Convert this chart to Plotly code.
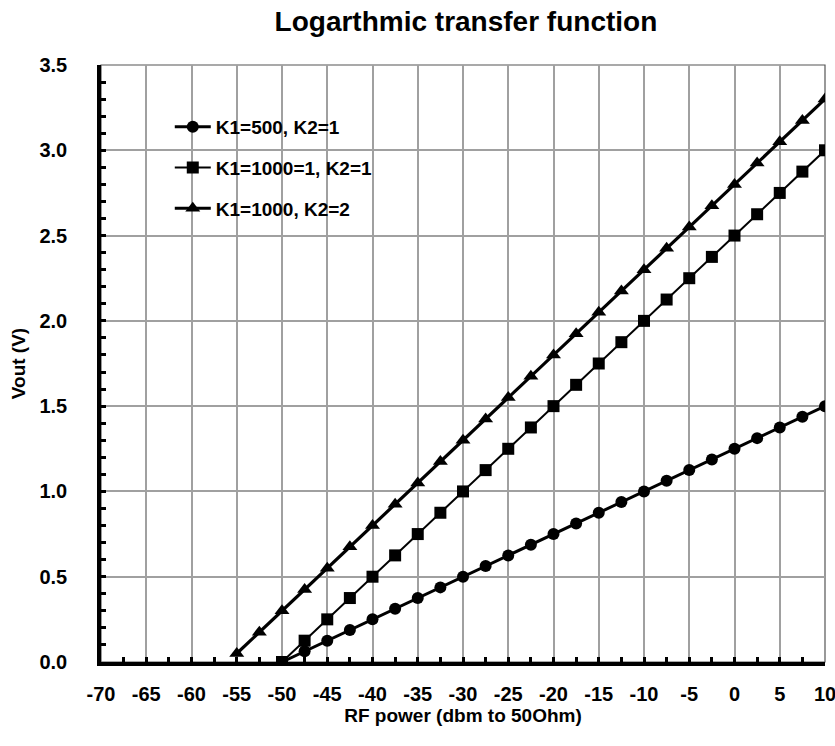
import plotly.graph_objects as go

# RF input power (dBm into 50 Ohm) and detector output voltage for three gain settings
power_k500 = [-50, -47.5, -45, -42.5, -40, -37.5, -35, -32.5, -30, -27.5, -25, -22.5, -20,
              -17.5, -15, -12.5, -10, -7.5, -5, -2.5, 0, 2.5, 5, 7.5, 10]
vout_k500 = [0.0, 0.0625, 0.125, 0.1875, 0.25, 0.3125, 0.375, 0.4375, 0.5, 0.5625, 0.625,
             0.6875, 0.75, 0.8125, 0.875, 0.9375, 1.0, 1.0625, 1.125, 1.1875, 1.25, 1.3125,
             1.375, 1.4375, 1.5]

power_k1000 = [-50, -47.5, -45, -42.5, -40, -37.5, -35, -32.5, -30, -27.5, -25, -22.5, -20,
               -17.5, -15, -12.5, -10, -7.5, -5, -2.5, 0, 2.5, 5, 7.5, 10]
vout_k1000 = [0.0, 0.125, 0.25, 0.375, 0.5, 0.625, 0.75, 0.875, 1.0, 1.125, 1.25, 1.375, 1.5,
              1.625, 1.75, 1.875, 2.0, 2.125, 2.25, 2.375, 2.5, 2.625, 2.75, 2.875, 3.0]

power_k1000_k2 = [-55, -52.5, -50, -47.5, -45, -42.5, -40, -37.5, -35, -32.5, -30, -27.5, -25,
                  -22.5, -20, -17.5, -15, -12.5, -10, -7.5, -5, -2.5, 0, 2.5, 5, 7.5, 10]
vout_k1000_k2 = [0.05, 0.175, 0.3, 0.425, 0.55, 0.675, 0.8, 0.925, 1.05, 1.175, 1.3, 1.425,
                 1.55, 1.675, 1.8, 1.925, 2.05, 2.175, 2.3, 2.425, 2.55, 2.675, 2.8, 2.925,
                 3.05, 3.175, 3.3]

x_ticks = [-70, -65, -60, -55, -50, -45, -40, -35, -30, -25, -20, -15, -10, -5, 0, 5, 10]
y_ticks = [0.0, 0.5, 1.0, 1.5, 2.0, 2.5, 3.0, 3.5]

FONT = "Liberation Sans, Arial, sans-serif"

fig = go.Figure()
fig.add_trace(go.Scatter(
    x=power_k500, y=vout_k500, mode="lines+markers", name="<b>K1=500, K2=1</b>",
    legendgroup="a", line=dict(color="black", width=3),
    marker=dict(symbol="circle", size=12, color="black"),
))
fig.add_trace(go.Scatter(
    x=power_k1000, y=vout_k1000, mode="lines+markers", name="<b>K1=1000=1, K2=1</b>",
    legendgroup="b", line=dict(color="black", width=2),
    marker=dict(symbol="square", size=12, color="black"),
))
fig.add_trace(go.Scatter(
    x=power_k1000_k2, y=vout_k1000_k2, mode="lines+markers", name="<b>K1=1000, K2=2</b>",
    legendgroup="c", line=dict(color="black", width=3.2),
    marker=dict(symbol="triangle-up", size=13, color="black"),
))

# thin frame on the top and right edges of the plotting area
fig.add_shape(type="rect", xref="x domain", yref="y domain", x0=0, x1=1, y0=0, y1=1,
              line=dict(color="#555555", width=1.2), layer="below")

fig.update_layout(
    width=835, height=746,
    margin=dict(l=101, r=10, t=65, b=84, autoexpand=False),
    paper_bgcolor="white", plot_bgcolor="white",
    font=dict(family=FONT, size=20, color="black"),
    title=dict(text="<b>Logarthmic transfer function</b>", x=0.558, xanchor="center",
               y=0.971, yanchor="middle", font=dict(size=28, family=FONT, color="black")),
    showlegend=True,
    legend=dict(x=0.095, y=0.928, xanchor="left", yanchor="top",
                bgcolor="rgba(0,0,0,0)", borderwidth=0, tracegroupgap=13,
                font=dict(size=19, family=FONT, color="black"),
                itemwidth=36),
    xaxis=dict(
        range=[-70, 10], tickmode="array", tickvals=x_ticks,
        ticktext=[f"<b>{v}</b>" for v in x_ticks],
        tickfont=dict(size=20, family=FONT),
        ticklabeloverflow="allow", automargin=False,
        showgrid=True, gridcolor="#a0a0a0", gridwidth=1.5,
        showline=True, linecolor="black", linewidth=3.5,
        ticks="inside", ticklen=5, tickwidth=3, tickcolor="black",
        minor=dict(dtick=2.5, tick0=-70, ticks="inside", ticklen=5, tickwidth=3,
                   tickcolor="black", showgrid=False),
        ticklabelstandoff=11, zeroline=False,
        title=dict(text="<b>RF power (dbm to 50Ohm)</b>", standoff=0,
                   font=dict(size=19, family=FONT)),
    ),
    yaxis=dict(
        range=[0, 3.5], tickmode="array", tickvals=y_ticks,
        ticktext=[f"<b>{v:.1f}</b>" for v in y_ticks],
        tickfont=dict(size=20, family=FONT), automargin=False,
        showgrid=True, gridcolor="#a0a0a0", gridwidth=1.5,
        showline=True, linecolor="black", linewidth=3.5,
        ticks="inside", ticklen=5, tickwidth=3, tickcolor="black",
        minor=dict(dtick=0.1, tick0=0, ticks="inside", ticklen=5, tickwidth=3,
                   tickcolor="black", showgrid=False),
        ticklabelstandoff=26, zeroline=False,
        title=dict(text="<b>Vout (V)</b>", standoff=10, font=dict(size=19, family=FONT)),
    ),
)

fig.write_html("out.html")
